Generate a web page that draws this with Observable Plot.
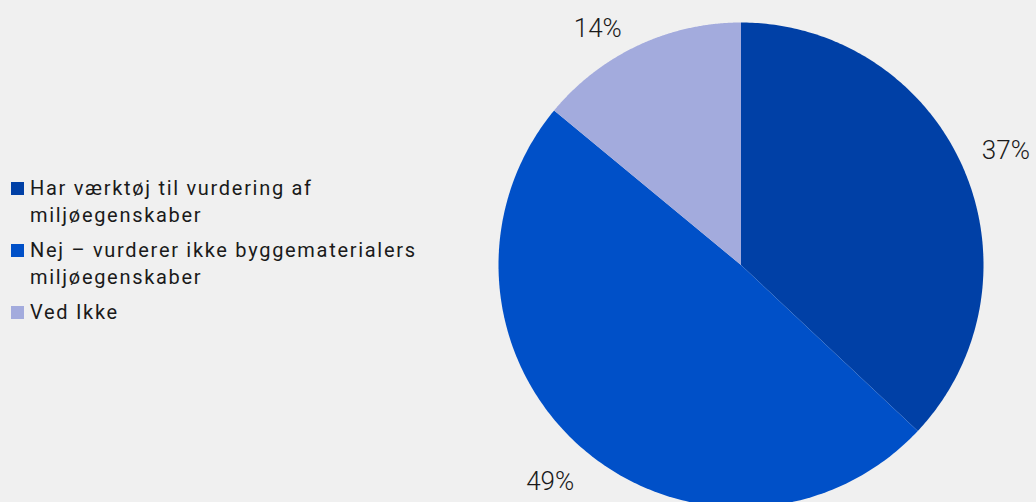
<!DOCTYPE html>
<html>
<head>
<meta charset="utf-8">
<script src="https://cdn.jsdelivr.net/npm/d3@7"></script>
<script src="https://cdn.jsdelivr.net/npm/@observablehq/plot@0.6"></script>
<style>
  html, body { margin: 0; padding: 0; background: #f0f0f0; }
  #wrap { position: relative; width: 1036px; height: 502px; overflow: hidden; background: #f0f0f0; font-family: Roboto, "DejaVu Sans", sans-serif; }
  #legend { position: absolute; left: 11px; top: 175px; width: 460px; }
  .item { display: flex; align-items: flex-start; font-size: 20px; line-height: 27px; color: #1a1a1a; margin-bottom: 8px; letter-spacing: 1.7px; }
  .sw { width: 13px; height: 13px; flex: none; margin-top: 7px; margin-right: 6px; }
</style>
</head>
<body>
<div id="wrap"><div id="legend"></div></div>
<script>
const categories = ["Har værktøj til vurdering af miljøegenskaber", "Nej – vurderer ikke byggematerialers miljøegenskaber", "Ved Ikke"];
const legendLines = [["Har værktøj til vurdering af", "miljøegenskaber"], ["Nej – vurderer ikke byggematerialers", "miljøegenskaber"], ["Ved Ikke"]];
const values = [37, 49, 14];
const labels = ["37%", "49%", "14%"];
const colors = ["#0040a6", "#0050c8", "#a3abdd"];

const pie = d3.pie().sort(null).value(d => d)(values);

// polygon points for each slice (unit circle, angle 0 at top, clockwise)
const slicePts = [];
pie.forEach((p, i) => {
  const n = 200;
  slicePts.push({cat: categories[i], x: 0, y: 0});
  for (let k = 0; k <= n; k++) {
    const a = p.startAngle + (p.endAngle - p.startAngle) * k / n;
    slicePts.push({cat: categories[i], x: Math.sin(a), y: Math.cos(a)});
  }
  slicePts.push({cat: categories[i], x: 0, y: 0});
});

// labels outside the pie at mid-angle; labels that would leave the top are slid along a slightly smaller circle
const labelR = 1.19, innerR = 1.14, yMax = 0.975;
const labelPts = pie.map((p, i) => {
  const a = (p.startAngle + p.endAngle) / 2;
  let x = Math.sin(a) * labelR, y = Math.cos(a) * labelR;
  if (y > yMax) { y = yMax; x = Math.sign(x) * Math.sqrt(innerR * innerR - yMax * yMax); }
  return {label: labels[i], x, y};
});

const R = 242.5, cx = 740.5, cy = 264.5;
const chart = Plot.plot({
  width: 1036,
  height: 502,
  margin: 0,
  style: {background: "transparent", fontFamily: "Roboto, 'DejaVu Sans', sans-serif"},
  x: {domain: [-1, 1], range: [cx - R, cx + R], axis: null},
  y: {domain: [-1, 1], range: [cy + R, cy - R], axis: null},
  color: {domain: categories, range: colors},
  marks: [
    Plot.line(slicePts, {x: "x", y: "y", z: "cat", fill: "cat", stroke: "none", curve: "linear"}),
    Plot.text(labelPts, {x: "x", y: "y", text: "label", fontSize: 26, fill: "#1a1a1a", fontWeight: 300, letterSpacing: "1.5px"})
  ]
});
document.getElementById("wrap").appendChild(chart);

const legend = document.getElementById("legend");
legendLines.forEach((lines, i) => {
  const item = document.createElement("div");
  item.className = "item";
  const sw = document.createElement("div");
  sw.className = "sw";
  sw.style.background = colors[i];
  const txt = document.createElement("div");
  txt.innerHTML = lines.join("<br>");
  item.appendChild(sw);
  item.appendChild(txt);
  legend.appendChild(item);
});
</script>
</body>
</html>
